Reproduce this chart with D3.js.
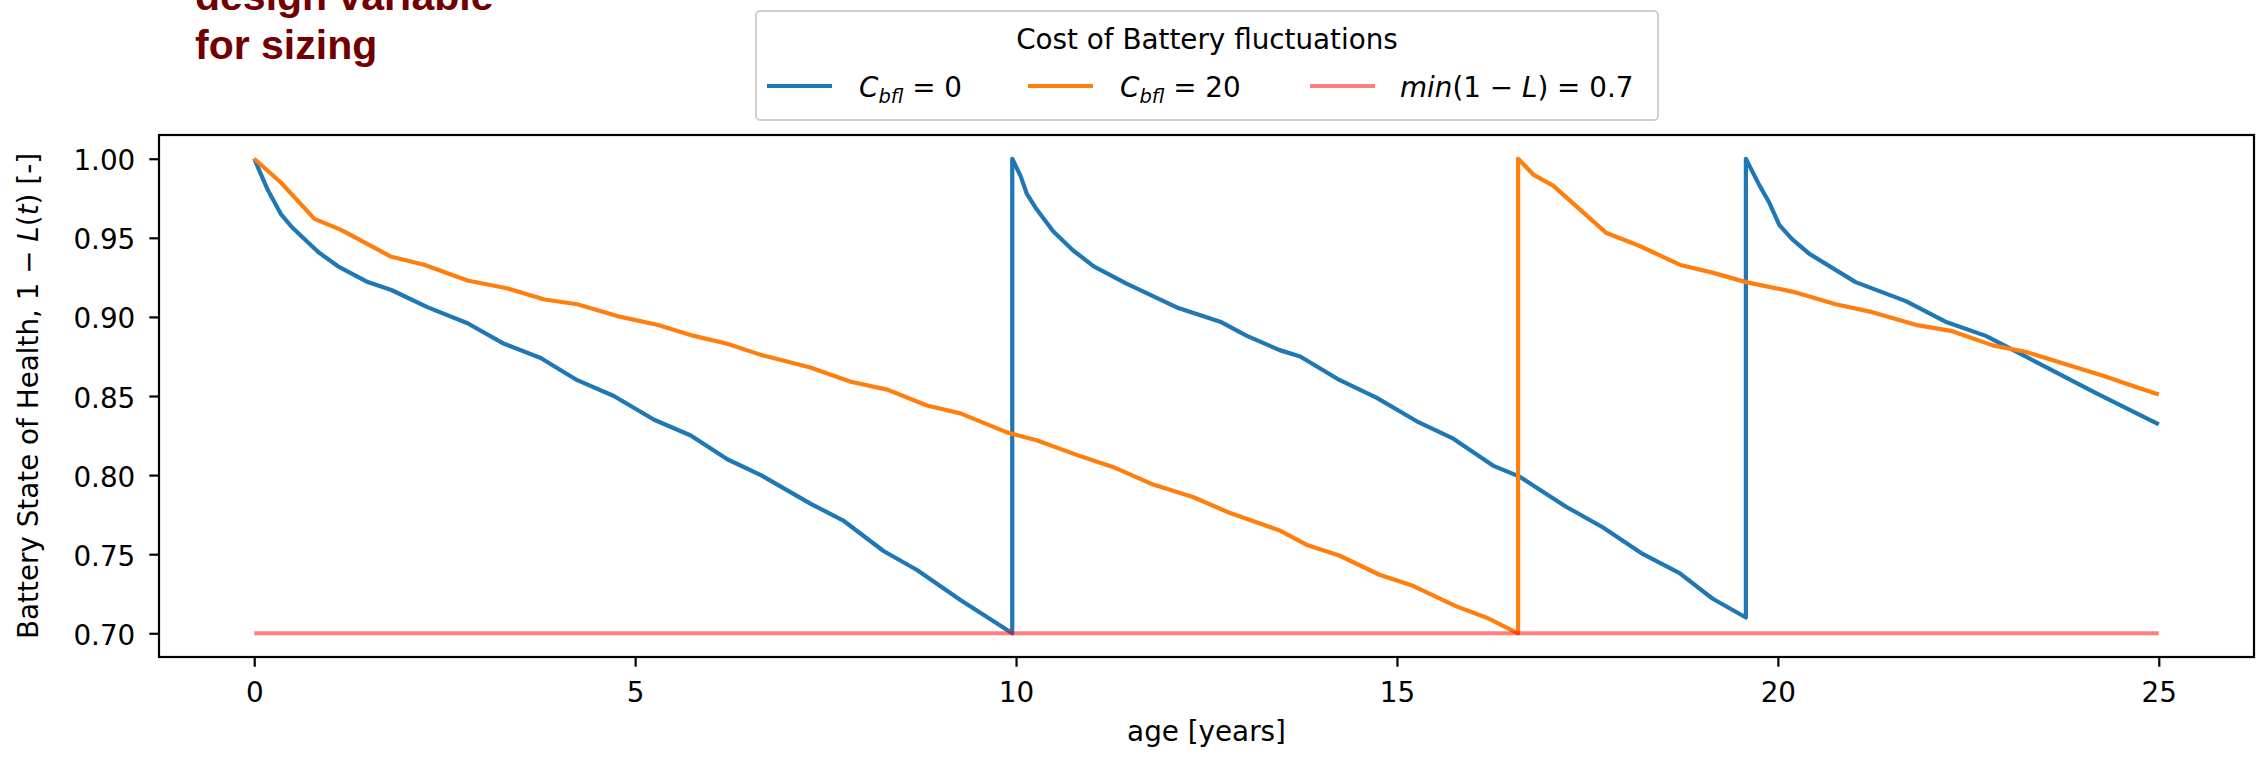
<!DOCTYPE html>
<html>
<head>
<meta charset="utf-8">
<script src="https://cdn.jsdelivr.net/npm/d3@7"></script>
<style>
    body { margin: 0; background: white; }
</style>
</head>
<body>
<div class="graph-goes-here"></div>
<script>
// values
var ageBlue = [0, 0.09, 0.18, 0.35, 0.49, 0.62, 0.84, 1.10, 1.49, 1.80, 2.28, 2.80, 3.28, 3.76, 4.24, 4.72, 5.25, 5.73, 6.21, 6.65, 7.30, 7.74, 8.26, 8.70, 9.27, 9.95,
    9.95, 10.06, 10.14, 10.27, 10.49, 10.75, 11.02, 11.45, 12.11, 12.68, 13.03, 13.46, 13.73, 14.25, 14.73, 15.26, 15.74, 16.26, 16.61, 17.22, 17.70, 18.23, 18.71, 19.14, 19.58,
    19.58, 19.76, 19.89, 20.02, 20.19, 20.41, 21.02, 21.68, 22.20, 22.73, 23.25, 23.69, 24.17, 25.0];
var sohBlue = [1.000, 0.990, 0.980, 0.965, 0.957, 0.951, 0.941, 0.932, 0.922, 0.917, 0.906, 0.896, 0.883, 0.874, 0.860, 0.850, 0.835, 0.825, 0.810, 0.800, 0.782, 0.771, 0.752, 0.740, 0.721, 0.700,
    1.000, 0.989, 0.978, 0.968, 0.954, 0.942, 0.932, 0.921, 0.906, 0.897, 0.888, 0.879, 0.875, 0.860, 0.849, 0.834, 0.823, 0.806, 0.799, 0.780, 0.767, 0.750, 0.738, 0.722, 0.710,
    1.000, 0.983, 0.972, 0.958, 0.949, 0.940, 0.922, 0.910, 0.897, 0.888, 0.875, 0.864, 0.852, 0.832];

var ageOrange = [0, 0.35, 0.79, 1.14, 1.80, 2.23, 2.80, 3.33, 3.81, 4.24, 4.81, 5.29, 5.77, 6.21, 6.65, 7.30, 7.83, 8.31, 8.83, 9.27, 9.88, 10.27, 10.84, 11.28, 11.80, 12.33, 12.81, 13.46, 13.81, 14.25, 14.77, 15.21, 15.78, 16.17, 16.59,
    16.59, 16.79, 17.05, 17.40, 17.75, 18.18, 18.71, 19.14, 19.58, 20.19, 20.76, 21.24, 21.81, 22.29, 22.82, 23.25, 23.78, 24.26, 24.74, 25.0];
var sohOrange = [1.000, 0.985, 0.962, 0.955, 0.938, 0.933, 0.923, 0.918, 0.911, 0.908, 0.900, 0.895, 0.888, 0.883, 0.876, 0.868, 0.859, 0.854, 0.844, 0.839, 0.827, 0.822, 0.812, 0.805, 0.794, 0.786, 0.776, 0.765, 0.756, 0.749, 0.737, 0.730, 0.717, 0.710, 0.700,
    1.000, 0.990, 0.983, 0.968, 0.953, 0.945, 0.933, 0.928, 0.922, 0.916, 0.908, 0.903, 0.895, 0.891, 0.882, 0.878, 0.870, 0.863, 0.855, 0.851];

var ageMin = [0, 25];
var sohMin = [0.7, 0.7];

var xTicks = [0, 5, 10, 15, 20, 25];
var yTicks = [0.70, 0.75, 0.80, 0.85, 0.90, 0.95, 1.00];

var legendTitle = "Cost of Battery fluctuations";

// set the dimensions and margins of the graph
var margin = { top: 135, right: 10, bottom: 101, left: 159 },
    width = 2264 - margin.left - margin.right,
    height = 758 - margin.top - margin.bottom;

var root = d3.select(".graph-goes-here")
    .append("svg")
    .attr("width", 2264)
    .attr("height", 758)
    .attr("font-family", "DejaVu Sans");

var svg = root.append("g")
    .attr("transform", "translate(" + margin.left + "," + margin.top + ")");

var xScale = d3.scaleLinear().domain([-1.25, 26.25]).range([0, width]);
var yScale = d3.scaleLinear().domain([0.685, 1.015]).range([height, 0]);

function toPoints(xs, ys) {
    return xs.map((x, i) => ({ age: x, soh: ys[i] }))
}

var line = d3.line()
    .x(d => xScale(d.age))
    .y(d => yScale(d.soh));

var series = [
    { pts: toPoints(ageBlue, sohBlue), color: "#1f77b4", opacity: 1 },
    { pts: toPoints(ageOrange, sohOrange), color: "#ff7f0e", opacity: 1 },
    { pts: toPoints(ageMin, sohMin), color: "#ff0000", opacity: 0.5 }
];

series.forEach(s => {
    svg.append("path")
        .datum(s.pts)
        .attr("fill", "none")
        .attr("stroke", s.color)
        .attr("stroke-opacity", s.opacity)
        .attr("stroke-width", 4.2)
        .attr("stroke-linejoin", "round")
        .attr("stroke-linecap", "butt")
        .attr("d", line);
});

// axes
var xAxis = svg.append("g")
    .attr("transform", "translate(0," + height + ")")
    .call(d3.axisBottom(xScale).tickValues(xTicks).tickSize(9.7).tickPadding(9.7));
var yAxis = svg.append("g")
    .call(d3.axisLeft(yScale).tickValues(yTicks).tickFormat(d3.format(".2f")).tickSize(9.7).tickPadding(14));

[xAxis, yAxis].forEach(ax => {
    ax.attr("font-family", "DejaVu Sans").attr("font-size", 27.8);
    ax.select(".domain").remove();
    ax.selectAll(".tick line").attr("stroke", "black").attr("stroke-width", 2.2);
    ax.selectAll(".tick text").attr("fill", "black");
});
xAxis.selectAll(".tick text").attr("y", 45).attr("dy", null);
yAxis.selectAll(".tick text").attr("dy", 11);

// frame
svg.append("rect")
    .attr("width", width)
    .attr("height", height)
    .attr("fill", "none")
    .attr("stroke", "black")
    .attr("stroke-width", 2.2);

// axis labels
root.append("text")
    .attr("x", margin.left + width / 2)
    .attr("y", 741)
    .attr("text-anchor", "middle")
    .attr("font-size", 27.8)
    .text("age [years]");

var yLabel = root.append("text")
    .attr("transform", "translate(38," + (margin.top + height / 2) + ") rotate(-90)")
    .attr("text-anchor", "middle")
    .attr("font-size", 27.8);
yLabel.append("tspan").text("Battery State of Health, 1 \u2212 ");
yLabel.append("tspan").attr("font-style", "italic").text("L");
yLabel.append("tspan").text("(");
yLabel.append("tspan").attr("font-style", "italic").text("t");
yLabel.append("tspan").text(") [-]");

// legend
var legend = root.append("g");
legend.append("rect")
    .attr("x", 756).attr("y", 11)
    .attr("width", 902).attr("height", 109)
    .attr("rx", 4)
    .attr("fill", "white")
    .attr("fill-opacity", 0.8)
    .attr("stroke", "#d0d0d0")
    .attr("stroke-width", 2);
legend.append("text")
    .attr("x", 1207).attr("y", 49)
    .attr("text-anchor", "middle")
    .attr("font-size", 27.8)
    .text(legendTitle);

var handles = [
    { x: 767, color: "#1f77b4", opacity: 1 },
    { x: 1028, color: "#ff7f0e", opacity: 1 },
    { x: 1310, color: "#ff0000", opacity: 0.5 }
];
handles.forEach(h => {
    legend.append("line")
        .attr("x1", h.x).attr("x2", h.x + 65)
        .attr("y1", 86).attr("y2", 86)
        .attr("stroke", h.color)
        .attr("stroke-opacity", h.opacity)
        .attr("stroke-width", 4.2);
});

function costLabel(x, val) {
    var t = legend.append("text").attr("x", x).attr("y", 97).attr("font-size", 27.8);
    t.append("tspan").attr("font-style", "italic").text("C");
    t.append("tspan").attr("font-style", "italic").attr("font-size", 19.5).attr("dy", 6).text("bfl");
    t.append("tspan").attr("dy", -6).text(" = " + val);
}
costLabel(859, "0");
costLabel(1120, "20");

var minLabel = legend.append("text").attr("x", 1400).attr("y", 97).attr("font-size", 27.8);
minLabel.append("tspan").attr("font-style", "italic").text("min");
minLabel.append("tspan").text("(1 \u2212 ");
minLabel.append("tspan").attr("font-style", "italic").text("L");
minLabel.append("tspan").text(") = 0.7");

// cut-off annotation at the top left (the reference crops its first line)
var note = root.append("text")
    .attr("font-family", "Liberation Sans, Arial, sans-serif")
    .attr("font-weight", "bold")
    .attr("font-size", 41)
    .attr("fill", "#720000");
note.append("tspan").attr("x", 195).attr("y", 10).text("design variable");
note.append("tspan").attr("x", 195).attr("y", 59).text("for sizing");
</script>
</body>
</html>
